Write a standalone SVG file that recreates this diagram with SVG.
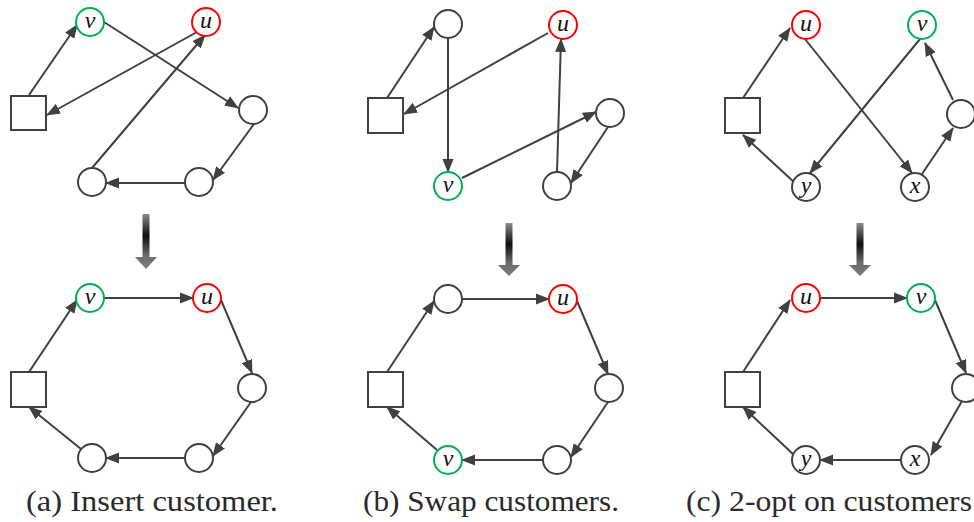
<svg xmlns="http://www.w3.org/2000/svg" width="974" height="522" viewBox="0 0 974 522">
<defs>
<style>
.n{fill:#fff;stroke:#404040;stroke-width:2}
.g{fill:#fff;stroke:#00b050;stroke-width:2}
.r{fill:#fff;stroke:#ff0000;stroke-width:2}
.e{stroke:#404040;stroke-width:2;fill:none;marker-end:url(#ah)}
.l{font-family:'Liberation Serif',serif;font-style:italic;font-size:24px;fill:#111;text-anchor:middle}
.cap{font-family:'Liberation Serif',serif;font-size:29px;fill:#2a2a2a}
.da{fill:url(#dg)}
</style>
<marker id="ah" markerUnits="userSpaceOnUse" markerWidth="15" markerHeight="12" refX="13" refY="6" orient="auto">
<path d="M0,0.5 L14,6 L0,11.5 z" fill="#404040"/>
</marker>
<linearGradient id="dg" x1="0" y1="0" x2="0" y2="1">
<stop offset="0" stop-color="#8c8c8c"/>
<stop offset="0.4" stop-color="#0d0d0d"/>
<stop offset="0.75" stop-color="#6c6c6c"/>
<stop offset="1" stop-color="#7c7c7c"/>
</linearGradient>
</defs>
<rect width="974" height="522" fill="#fff"/>

<g id="connectors">
<line class="e" x1="29" y1="95" x2="77" y2="25"/>
<line class="e" x1="104" y1="22" x2="238" y2="108"/>
<line class="e" x1="197" y1="32" x2="47" y2="115"/>
<line class="e" x1="254" y1="124" x2="213" y2="180"/>
<line class="e" x1="185" y1="183" x2="106" y2="183"/>
<line class="e" x1="92" y1="168" x2="205" y2="35"/>
<line class="e" x1="29" y1="372" x2="77" y2="300"/>
<line class="e" x1="104" y1="298" x2="193" y2="298"/>
<line class="e" x1="221" y1="300" x2="252" y2="373"/>
<line class="e" x1="251" y1="402" x2="213" y2="456"/>
<line class="e" x1="185" y1="458" x2="106" y2="458"/>
<line class="e" x1="81" y1="449" x2="29" y2="407"/>
<line class="e" x1="387" y1="98" x2="434" y2="27"/>
<line class="e" x1="448" y1="38" x2="448" y2="172"/>
<line class="e" x1="548" y1="33" x2="404" y2="114"/>
<line class="e" x1="462" y1="178" x2="596" y2="112"/>
<line class="e" x1="608" y1="127" x2="571" y2="183"/>
<line class="e" x1="557" y1="172" x2="561" y2="39"/>
<line class="e" x1="387" y1="372" x2="434" y2="301"/>
<line class="e" x1="462" y1="299" x2="549" y2="299"/>
<line class="e" x1="577" y1="301" x2="608" y2="374"/>
<line class="e" x1="608" y1="402" x2="571" y2="457"/>
<line class="e" x1="543" y1="460" x2="462" y2="460"/>
<line class="e" x1="437" y1="450" x2="387" y2="407"/>
<line class="e" x1="743" y1="98" x2="790" y2="28"/>
<line class="e" x1="805" y1="39" x2="912" y2="173"/>
<line class="e" x1="920" y1="39" x2="810" y2="173"/>
<line class="e" x1="922" y1="174" x2="953" y2="128"/>
<line class="e" x1="953" y1="100" x2="925" y2="43"/>
<line class="e" x1="795" y1="183" x2="743" y2="135"/>
<line class="e" x1="743" y1="372" x2="790" y2="300"/>
<line class="e" x1="820" y1="298" x2="907" y2="298"/>
<line class="e" x1="935" y1="300" x2="966" y2="373"/>
<line class="e" x1="962" y1="401" x2="931" y2="455"/>
<line class="e" x1="901" y1="460" x2="820" y2="460"/>
<line class="e" x1="795" y1="456" x2="743" y2="407"/>
</g>

<g id="a1-depot"><rect class="n" x="11" y="96" width="35" height="34"/></g>
<g id="a1-v"><circle class="g" cx="90" cy="22" r="14"/><text class="l" x="90" y="28">v</text></g>
<g id="a1-u"><circle class="r" cx="206" cy="22" r="14"/><text class="l" x="206" y="28">u</text></g>
<g id="a1-c1"><circle class="n" cx="253" cy="110" r="14"/></g>
<g id="a1-c2"><circle class="n" cx="199" cy="182" r="14"/></g>
<g id="a1-c3"><circle class="n" cx="92" cy="182" r="14"/></g>
<g id="a2-depot"><rect class="n" x="11" y="372" width="35" height="35"/></g>
<g id="a2-v"><circle class="g" cx="90" cy="298" r="14"/><text class="l" x="90" y="304">v</text></g>
<g id="a2-u"><circle class="r" cx="207" cy="298" r="14"/><text class="l" x="207" y="304">u</text></g>
<g id="a2-c1"><circle class="n" cx="252" cy="388" r="14"/></g>
<g id="a2-c2"><circle class="n" cx="199" cy="458" r="14"/></g>
<g id="a2-c3"><circle class="n" cx="92" cy="458" r="14"/></g>
<g id="b1-depot"><rect class="n" x="368" y="98" width="35" height="35"/></g>
<g id="b1-c0"><circle class="n" cx="448" cy="24" r="14"/></g>
<g id="b1-u"><circle class="r" cx="563" cy="25" r="14"/><text class="l" x="563" y="31">u</text></g>
<g id="b1-c1"><circle class="n" cx="610" cy="113" r="14"/></g>
<g id="b1-v"><circle class="g" cx="448" cy="186" r="14"/><text class="l" x="448" y="192">v</text></g>
<g id="b1-c2"><circle class="n" cx="557" cy="186" r="14"/></g>
<g id="b2-depot"><rect class="n" x="368" y="372" width="35" height="35"/></g>
<g id="b2-c0"><circle class="n" cx="448" cy="299" r="14"/></g>
<g id="b2-u"><circle class="r" cx="563" cy="299" r="14"/><text class="l" x="563" y="305">u</text></g>
<g id="b2-c1"><circle class="n" cx="609" cy="388" r="14"/></g>
<g id="b2-v"><circle class="g" cx="448" cy="460" r="14"/><text class="l" x="448" y="466">v</text></g>
<g id="b2-c2"><circle class="n" cx="557" cy="460" r="14"/></g>
<g id="c1-depot"><rect class="n" x="725" y="98" width="35" height="35"/></g>
<g id="c1-u"><circle class="r" cx="806" cy="25" r="14"/><text class="l" x="806" y="31">u</text></g>
<g id="c1-v"><circle class="g" cx="922" cy="25" r="14"/><text class="l" x="922" y="31">v</text></g>
<g id="c1-c1"><circle class="n" cx="961" cy="114" r="14"/></g>
<g id="c1-y"><circle class="n" cx="806" cy="187" r="14"/><text class="l" x="806" y="193">y</text></g>
<g id="c1-x"><circle class="n" cx="915" cy="187" r="14"/><text class="l" x="915" y="193">x</text></g>
<g id="c2-depot"><rect class="n" x="725" y="372" width="35" height="35"/></g>
<g id="c2-u"><circle class="r" cx="806" cy="298" r="14"/><text class="l" x="806" y="304">u</text></g>
<g id="c2-v"><circle class="g" cx="921" cy="298" r="14"/><text class="l" x="921" y="304">v</text></g>
<g id="c2-c1"><circle class="n" cx="966" cy="388" r="14"/></g>
<g id="c2-y"><circle class="n" cx="806" cy="460" r="14"/><text class="l" x="806" y="466">y</text></g>
<g id="c2-x"><circle class="n" cx="915" cy="460" r="14"/><text class="l" x="915" y="466">x</text></g>

<g id="arrow-a"><polygon class="da" points="142.5,214 149.5,214 149.5,257 157,257 146,269 135,257 142.5,257"/></g>
<g id="arrow-b"><polygon class="da" points="505.5,223 512.5,223 512.5,265 520,265 509,276 498,265 505.5,265"/></g>
<g id="arrow-c"><polygon class="da" points="856.5,223 863.5,223 863.5,265 871,265 860,276 849,265 856.5,265"/></g>

<text class="cap" x="26" y="511" textLength="252" lengthAdjust="spacingAndGlyphs">(a) Insert customer.</text>
<text class="cap" x="363" y="511" textLength="256" lengthAdjust="spacingAndGlyphs">(b) Swap customers.</text>
<text class="cap" x="686" y="511" textLength="286" lengthAdjust="spacingAndGlyphs">(c) 2-opt on customers</text>
</svg>
